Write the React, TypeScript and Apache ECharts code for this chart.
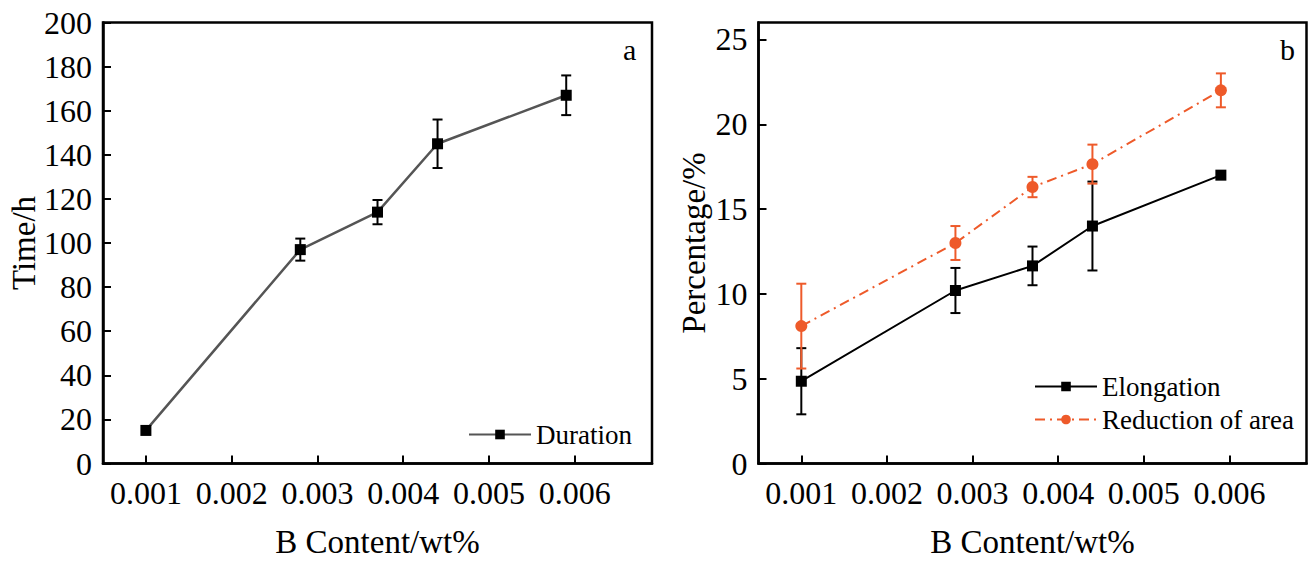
import React, { useEffect, useRef } from "react";
import * as echarts from "echarts";

// B content (wt%) of the five samples
const bContent = [0.001, 0.0028, 0.0037, 0.0044, 0.0059];
const xTicks = [0.001, 0.002, 0.003, 0.004, 0.005, 0.006];

// panel a
const duration = [15, 97, 114, 145, 167];
const durationErr = [0, 5, 5.5, 11, 9];

// panel b
const elongation = [4.85, 10.2, 11.65, 14.0, 17.0];
const elongationErr = [1.95, 1.33, 1.14, 2.62, 0];
const reduction = [8.1, 13.0, 16.3, 17.65, 22.0];
const reductionErr = [2.5, 1.0, 0.6, 1.15, 1.0];

const FONT = "Liberation Serif, Times New Roman, serif";
const ORANGE = "#EE5A2A";

const pairs = (ys: number[]) => bContent.map((x, i) => [x, ys[i]]);
const errRows = (ys: number[], errs: number[]) =>
  bContent.map((x, i) => [x, ys[i] - errs[i], ys[i] + errs[i]]);

const errorSeries = (rows: number[][], idx: number, color: string) => ({
  type: "custom",
  xAxisIndex: idx,
  yAxisIndex: idx,
  silent: true,
  z: 1,
  encode: { x: 0, y: [1, 2] },
  data: rows,
  renderItem: (params: any, api: any) => {
    const x = api.value(0);
    const lo = api.value(1);
    const hi = api.value(2);
    if (hi - lo <= 0) return null;
    const a = api.coord([x, lo]);
    const b = api.coord([x, hi]);
    const w = 5;
    const style = { stroke: color, lineWidth: 2 };
    return {
      type: "group",
      children: [
        { type: "line", shape: { x1: a[0], y1: a[1], x2: b[0], y2: b[1] }, style },
        { type: "line", shape: { x1: a[0] - w, y1: a[1], x2: a[0] + w, y2: a[1] }, style },
        { type: "line", shape: { x1: b[0] - w, y1: b[1], x2: b[0] + w, y2: b[1] }, style },
      ],
    };
  },
});

const xAxisFor = (idx: number) => ({
  type: "value",
  gridIndex: idx,
  min: 0.0005,
  max: 0.0069,
  name: "B Content/wt%",
  nameLocation: "middle",
  nameGap: 62,
  nameTextStyle: { fontFamily: FONT, fontSize: 33, color: "#000", verticalAlign: "top" },
  axisLine: { onZero: false, lineStyle: { color: "#000", width: 2.5 } },
  axisTick: { inside: true, length: 8, lineStyle: { width: 2 }, customValues: xTicks },
  axisLabel: {
    customValues: xTicks,
    fontFamily: FONT,
    fontSize: 32,
    color: "#000",
    margin: 13,
    formatter: (v: number) => v.toFixed(3),
  },
  splitLine: { show: false },
});

const App: React.FC = () => {
  const chartRef = useRef<HTMLDivElement>(null);

  useEffect(() => {
    if (!chartRef.current) return;
    const chart = echarts.init(chartRef.current, null, { renderer: "svg" });

    const option = {
      animation: false,
      backgroundColor: "#fff",
      textStyle: { fontFamily: FONT, color: "#000" },
      grid: [
        { left: 103, top: 22.5, width: 549, height: 441, show: true, borderColor: "#000", borderWidth: 2.5 },
        { left: 758.5, top: 22.5, width: 548, height: 441, show: true, borderColor: "#000", borderWidth: 2.5 },
      ],
      xAxis: [xAxisFor(0), xAxisFor(1)],
      yAxis: [
        {
          type: "value",
          gridIndex: 0,
          min: 0,
          max: 200,
          interval: 20,
          name: "Time/h",
          nameLocation: "middle",
          nameGap: 58,
          nameTextStyle: { fontFamily: FONT, fontSize: 33, color: "#000" },
          axisLine: { lineStyle: { color: "#000", width: 2.5 } },
          axisTick: { inside: true, length: 8, lineStyle: { width: 2 } },
          axisLabel: { fontFamily: FONT, fontSize: 32, color: "#000", margin: 11 },
          splitLine: { show: false },
        },
        {
          type: "value",
          gridIndex: 1,
          min: 0,
          max: 26,
          interval: 5,
          name: "Percentage/%",
          nameLocation: "middle",
          nameGap: 48,
          nameTextStyle: { fontFamily: FONT, fontSize: 33, color: "#000" },
          axisLine: { lineStyle: { color: "#000", width: 2.5 } },
          axisTick: { inside: true, length: 8, lineStyle: { width: 2 } },
          axisLabel: { fontFamily: FONT, fontSize: 32, color: "#000", margin: 11, showMaxLabel: false },
          splitLine: { show: false },
        },
      ],
      legend: [
        {
          data: ["Duration"],
          left: 463,
          top: 416,
          itemWidth: 62,
          itemHeight: 12,
          textStyle: { fontFamily: FONT, fontSize: 27, color: "#000" },
        },
        {
          data: ["Elongation", "Reduction of area"],
          orient: "vertical",
          left: 1029,
          top: 368,
          itemWidth: 62,
          itemHeight: 12,
          itemGap: 6,
          textStyle: { fontFamily: FONT, fontSize: 27, color: "#000" },
        },
      ],
      graphic: [
        { type: "text", left: 623, top: 34, style: { text: "a", font: `30px ${FONT}`, fill: "#000" } },
        { type: "text", left: 1280, top: 34, style: { text: "b", font: `30px ${FONT}`, fill: "#000" } },
      ],
      series: [
        errorSeries(errRows(duration, durationErr), 0, "#000"),
        {
          name: "Duration",
          type: "line",
          xAxisIndex: 0,
          yAxisIndex: 0,
          data: pairs(duration),
          symbol: "rect",
          symbolSize: 11,
          z: 3,
          itemStyle: { color: "#000" },
          lineStyle: { color: "#555", width: 2.5 },
        },
        errorSeries(errRows(elongation, elongationErr), 1, "#000"),
        errorSeries(errRows(reduction, reductionErr), 1, ORANGE),
        {
          name: "Elongation",
          type: "line",
          xAxisIndex: 1,
          yAxisIndex: 1,
          data: pairs(elongation),
          symbol: "rect",
          symbolSize: 11,
          z: 3,
          itemStyle: { color: "#000" },
          lineStyle: { color: "#000", width: 2 },
        },
        {
          name: "Reduction of area",
          type: "line",
          xAxisIndex: 1,
          yAxisIndex: 1,
          data: pairs(reduction),
          symbol: "circle",
          symbolSize: 12,
          z: 3,
          itemStyle: { color: ORANGE },
          lineStyle: { color: ORANGE, width: 2, type: [10, 5, 2, 5] },
        },
      ],
    };

    chart.setOption(option);
    return () => {
      chart.dispose();
    };
  }, []);

  return (
    <div
      ref={chartRef}
      style={{ position: "fixed", left: 0, top: 0, width: "1316px", height: "565px" }}
    />
  );
};

export default App;
